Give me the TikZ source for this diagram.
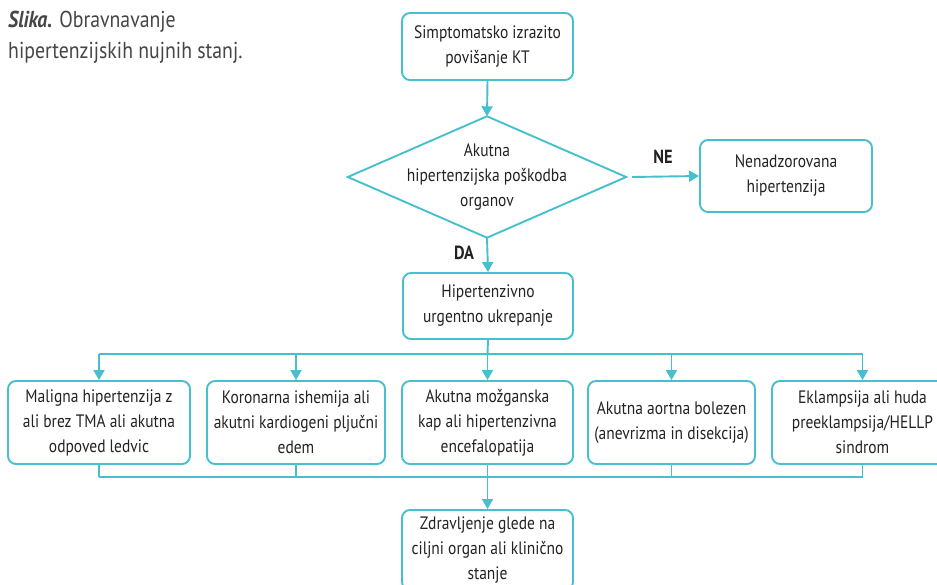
\documentclass[tikz,border=0pt]{standalone}
\usepackage{fontspec}
\setmainfont{PT Sans}[FakeStretch=0.86]
\usetikzlibrary{arrows.meta}
\definecolor{flow}{RGB}{70,192,206}
\definecolor{ink}{RGB}{35,35,35}
\definecolor{titleink}{RGB}{70,70,70}
\tikzset{
  fbox/.style={draw=flow, line width=1.9pt, rounded corners=8pt, align=center,
    text=ink, inner sep=2pt, font=\fontsize{18}{25}\selectfont},
  ftxt/.style={align=center, text=ink, inner sep=0pt, font=\fontsize{18}{25}\selectfont},
  conn/.style={draw=flow, line width=1.9pt},
  arr/.style={conn, -{Triangle[length=10pt,width=11pt]}},
  lab/.style={text=ink, font=\fontsize{19}{20}\selectfont\bfseries},
}
\begin{document}
\begin{tikzpicture}[x=1pt,y=-1pt]
\clip (0,0) rectangle (937,585);
\fill[white] (0,0) rectangle (937,585);
% title
\node[anchor=north west, align=left, text=titleink, inner sep=0pt,
  font=\fontsize{23}{31}\selectfont] (title) at (8,11)
  {\textbf{\textit{Slika.}} Obravnavanje\\hipertenzijskih nujnih stanj.};
% nodes
\node[fbox, minimum width=171pt, minimum height=67pt] (s) at (487.5,46.5)
  {Simptomatsko izrazito\\povišanje KT};
\node[ftxt, minimum width=278pt, minimum height=121pt] (d) at (487,177)
  {Akutna\\hipertenzijska poškodba\\organov};
\draw[conn, line join=miter] (d.north) -- (d.east) -- (d.south) -- (d.west) -- cycle;
\node[fbox, minimum width=172pt, minimum height=72pt] (ne) at (786,176)
  {Nenadzorovana\\hipertenzija};
\node[fbox, minimum width=170pt, minimum height=66pt] (h) at (488,306)
  {Hipertenzivno\\urgentno ukrepanje};
\node[fbox, minimum width=182pt, minimum height=83pt] (b1) at (99,422.5)
  {Maligna hipertenzija z\\ali brez TMA ali akutna\\odpoved ledvic};
\node[fbox, minimum width=178pt, minimum height=83pt] (b2) at (296,422.5)
  {Koronarna ishemija ali\\akutni kardiogeni pljučni\\edem};
\node[fbox, minimum width=171pt, minimum height=83pt] (b3) at (487.5,422.5)
  {Akutna možganska\\kap ali hipertenzivna\\encefalopatija};
\node[fbox, minimum width=167pt, minimum height=83pt] (b4) at (671.5,422.5)
  {Akutna aortna bolezen\\(anevrizma in disekcija)};
\node[fbox, minimum width=181pt, minimum height=83pt] (b5) at (862.5,422.5)
  {Eklampsija ali huda\\preeklampsija/HELLP\\sindrom};
\node[fbox, minimum width=171pt, minimum height=80pt] (z) at (487.5,550)
  {Zdravljenje glede na\\ciljni organ ali klinično\\stanje};
% connectors
\draw[arr] (s.south) -- (d.north);
\draw[arr] (d.east) ++(6,0) coordinate (dE) -- (ne.west);
\node[lab] (nelab) at (663,157) {NE};
\draw[arr] (d.south) -- (h.north);
\node[lab] (dalab) at (464,253) {DA};
\coordinate (busT) at (487.5,354);
\draw[conn] (h.south) -- (busT);
\draw[conn] (b1.north |- busT) -- (b5.north |- busT);
\foreach \b in {b1,b2,b3,b4,b5}{
  \draw[arr] (\b.north |- busT) -- (\b.north);
}
\coordinate (busB) at (487.5,477);
\foreach \b in {b1,b2,b3,b4,b5}{
  \draw[conn] (\b.south) -- (\b.south |- busB);
}
\draw[conn] (b1.south |- busB) -- (b5.south |- busB);
\draw[arr] (busB) -- (z.north);
\end{tikzpicture}
\end{document}
